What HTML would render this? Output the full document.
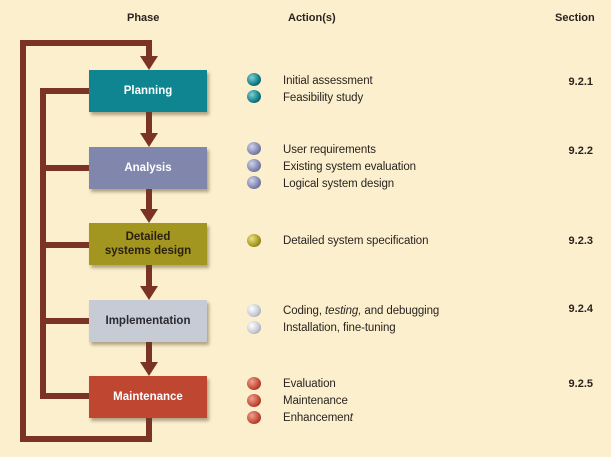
<!DOCTYPE html>
<html><head><meta charset="utf-8"><style>
body{margin:0;width:611px;height:457px;background:#fbefcd;position:relative;overflow:hidden;font-family:"Liberation Sans",sans-serif;}
.l{position:absolute;background:#7b3326;}
.box{position:absolute;left:89px;width:118px;height:42px;box-shadow:2px 3px 3px rgba(90,70,40,.45);display:flex;align-items:center;justify-content:center;text-align:center;font-weight:bold;font-size:11.5px;line-height:14px;}
.arr{position:absolute;width:0;height:0;border-left:9px solid transparent;border-right:9px solid transparent;border-top:14px solid #7b3326;left:140px;}
.t{position:absolute;left:283px;font-size:11.5px;color:#2a2420;line-height:16px;letter-spacing:-0.1px;}
.b{position:absolute;left:247px;width:14px;height:13px;border-radius:50%;}
.s{position:absolute;right:18px;font-size:11px;font-weight:bold;color:#2a2420;}
.h{position:absolute;top:12px;font-size:11px;font-weight:bold;color:#2a2420;}
</style></head><body>
<div class="h" style="left:127px">Phase</div>
<div class="h" style="left:288px">Action(s)</div>
<div class="h" style="left:555px">Section</div>

<div class="l" style="left:20px;top:40px;width:6px;height:402px"></div>
<div class="l" style="left:20px;top:40px;width:132px;height:6px"></div>
<div class="l" style="left:146px;top:40px;width:6px;height:18px"></div>
<div class="arr" style="top:56px"></div>
<div class="l" style="left:20px;top:436px;width:132px;height:6px"></div>
<div class="l" style="left:146px;top:416px;width:6px;height:26px"></div>

<div class="l" style="left:40px;top:88px;width:6px;height:311px"></div>
<div class="l" style="left:40px;top:88px;width:50px;height:6px"></div>
<div class="l" style="left:40px;top:165px;width:50px;height:6px"></div>
<div class="l" style="left:40px;top:242px;width:50px;height:6px"></div>
<div class="l" style="left:40px;top:318px;width:50px;height:6px"></div>
<div class="l" style="left:40px;top:393px;width:50px;height:6px"></div>

<div class="l" style="left:146px;top:112px;width:6px;height:22px"></div><div class="arr" style="top:133px"></div>
<div class="l" style="left:146px;top:189px;width:6px;height:22px"></div><div class="arr" style="top:209px"></div>
<div class="l" style="left:146px;top:265px;width:6px;height:22px"></div><div class="arr" style="top:286px"></div>
<div class="l" style="left:146px;top:342px;width:6px;height:22px"></div><div class="arr" style="top:362px"></div>

<div class="box" style="top:70px;background:#0e8590;color:#fff">Planning</div>
<div class="box" style="top:147px;background:#8186ad;color:#fff">Analysis</div>
<div class="box" style="top:223px;background:#a39620;color:#2a2010">Detailed<br>systems design</div>
<div class="box" style="top:300px;background:#c7cbd6;color:#2a2a30">Implementation</div>
<div class="box" style="top:376px;background:#bf4732;color:#fff">Maintenance</div>

<div class="b" style="top:73px;background:radial-gradient(circle at 35% 35%,#7fd0d6,#0e7a82 60%,#064a50)"></div>
<div class="b" style="top:90px;background:radial-gradient(circle at 35% 35%,#7fd0d6,#0e7a82 60%,#064a50)"></div>
<div class="t" style="top:73px">Initial assessment</div>
<div class="t" style="top:90px">Feasibility study</div>

<div class="b" style="top:142px;background:radial-gradient(circle at 35% 35%,#d0d2ea,#7d82ab 60%,#4e527a)"></div>
<div class="b" style="top:159px;background:radial-gradient(circle at 35% 35%,#d0d2ea,#7d82ab 60%,#4e527a)"></div>
<div class="b" style="top:176px;background:radial-gradient(circle at 35% 35%,#d0d2ea,#7d82ab 60%,#4e527a)"></div>
<div class="t" style="top:142px">User requirements</div>
<div class="t" style="top:159px">Existing system evaluation</div>
<div class="t" style="top:176px">Logical system design</div>

<div class="b" style="top:234px;background:radial-gradient(circle at 35% 35%,#eee080,#a39620 60%,#5f560c)"></div>
<div class="t" style="top:233px">Detailed system specification</div>

<div class="b" style="top:304px;background:radial-gradient(circle at 35% 35%,#fff,#c2c6d2 60%,#80848f)"></div>
<div class="b" style="top:321px;background:radial-gradient(circle at 35% 35%,#fff,#c2c6d2 60%,#80848f)"></div>
<div class="t" style="top:303px">Coding, <i>testing,</i> and debugging</div>
<div class="t" style="top:320px">Installation, fine-tuning</div>

<div class="b" style="top:377px;background:radial-gradient(circle at 35% 35%,#f0a090,#bf4732 60%,#7a2414)"></div>
<div class="b" style="top:394px;background:radial-gradient(circle at 35% 35%,#f0a090,#bf4732 60%,#7a2414)"></div>
<div class="b" style="top:411px;background:radial-gradient(circle at 35% 35%,#f0a090,#bf4732 60%,#7a2414)"></div>
<div class="t" style="top:376px">Evaluation</div>
<div class="t" style="top:393px">Maintenance</div>
<div class="t" style="top:410px">Enhancemen<i>t</i></div>

<div class="s" style="top:76px">9.2.1</div>
<div class="s" style="top:145px">9.2.2</div>
<div class="s" style="top:235px">9.2.3</div>
<div class="s" style="top:303px">9.2.4</div>
<div class="s" style="top:378px">9.2.5</div>
</body></html>
